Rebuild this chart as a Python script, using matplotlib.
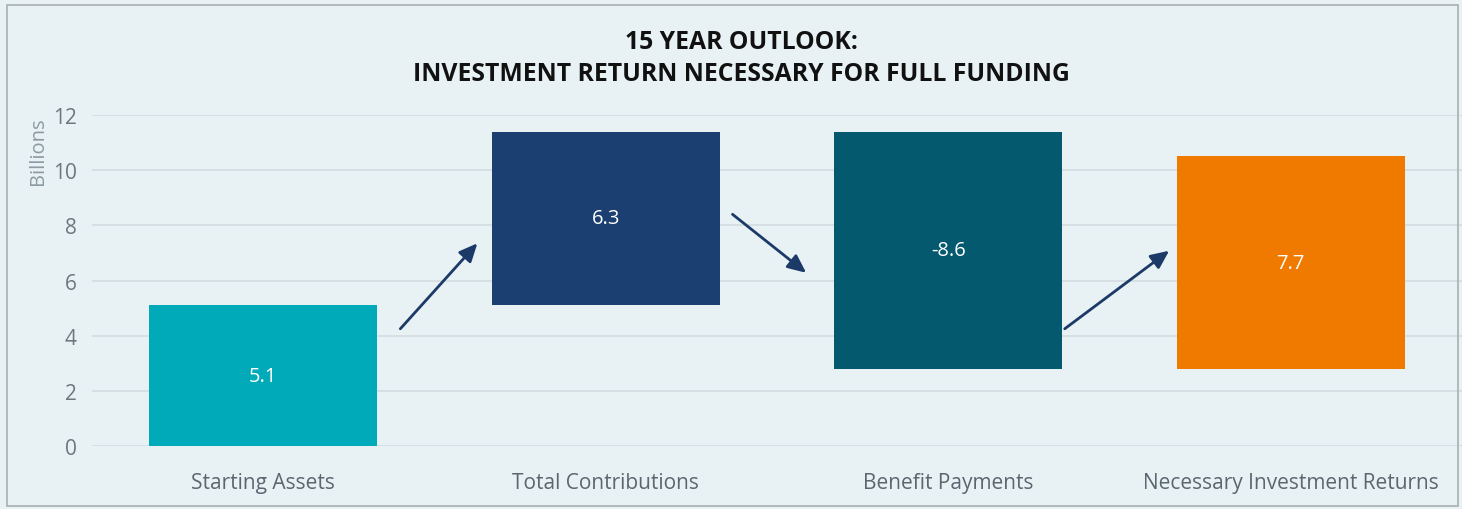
import matplotlib.pyplot as plt
from matplotlib.patches import Rectangle

# waterfall steps, in billions
categories = ["Starting Assets", "Total Contributions", "Benefit Payments",
              "Necessary Investment Returns"]
changes = [5.1, 6.3, -8.6, 7.7]
labels = ["5.1", "6.3", "-8.6", "7.7"]
colors = ["#00aab8", "#1b3f70", "#04596f", "#f07a00"]

bg = "#e8f1f4"
plt.rcParams['font.family'] = ['Open Sans', 'DejaVu Sans']

fig = plt.figure(figsize=(14.62, 5.10), dpi=100, facecolor=bg)
ax = fig.add_axes([0.063, 0.1235, 0.937, 0.649])
ax.set_facecolor(bg)

# running totals give the bottom of each floating bar
bottoms = []
total = 0
for i, c in enumerate(changes):
    if c >= 0:
        bottoms.append(total)
    else:
        bottoms.append(total + c)
    total += c
heights = [abs(c) for c in changes]

x = range(len(categories))
ax.bar(x, heights, bottom=bottoms, width=0.665, color=colors, zorder=3)
for i in x:
    ax.text(i, bottoms[i] + heights[i] / 2, labels[i], ha="center", va="center",
            color="white", fontsize=14.5, zorder=4)

# connector arrows between bars
arrows = [((0.40, 4.25), (0.625, 7.35)),
          ((1.37, 8.40), (1.585, 6.28)),
          ((2.34, 4.25), (2.645, 7.08))]
for start, end in arrows:
    ax.annotate("", xy=end, xytext=start,
                arrowprops=dict(arrowstyle="-|>,head_length=1.1,head_width=0.5",
                                color="#1b3a68", lw=2, shrinkA=0, shrinkB=0),
                zorder=5)

ax.set_xlim(-0.5, 3.5)
ax.set_ylim(0, 12)
ax.set_yticks(range(0, 13, 2))
ax.set_xticks(list(x))
ax.set_xticklabels(categories)
ax.tick_params(axis="x", length=0, pad=19, labelsize=15, labelcolor="#5b6770")
ax.tick_params(axis="y", length=0, pad=11, labelsize=15, labelcolor="#6c7880")
ax.grid(axis="y", color="#d3dde1", lw=1.2, zorder=0)
for s in ax.spines.values():
    s.set_visible(False)
ax.set_ylabel("Billions", color="#8b9aa3", fontsize=14.5)
ax.yaxis.set_label_coords(-0.0325, 0.895)

fig.text(0.507, 0.917, "15 YEAR OUTLOOK:", ha="center", va="center",
         fontsize=17.8, fontweight="bold", color="#111111")
fig.text(0.507, 0.853, "INVESTMENT RETURN NECESSARY FOR FULL FUNDING", ha="center",
         va="center", fontsize=17.8, fontweight="bold", color="#111111")

# thin frame around the whole chart
fig.add_artist(Rectangle((0.005, 0.006), 0.992, 0.982, transform=fig.transFigure,
                         fill=False, edgecolor="#a8b0b4", lw=1.2))

fig.savefig("out.png", dpi=100, facecolor=bg)
